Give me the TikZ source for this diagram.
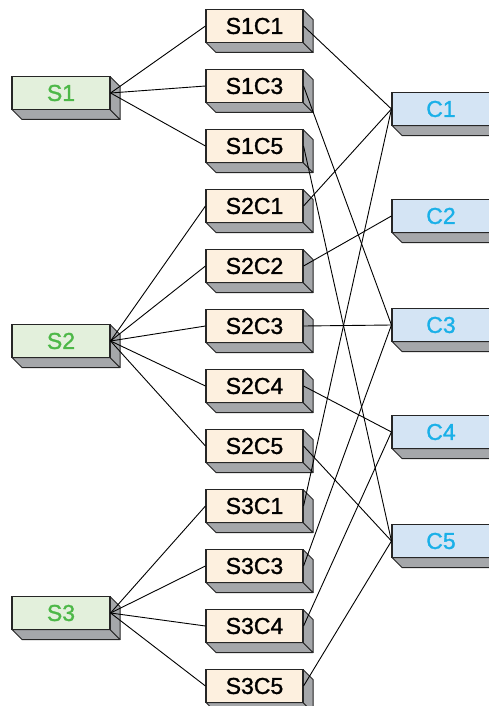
\documentclass[tikz,border=0pt]{standalone}
\usepackage{fontspec}
\setmainfont[FakeBold=1.3]{Liberation Sans}
\definecolor{sfill}{HTML}{E3F0DC}
\definecolor{mfill}{HTML}{FDF0DF}
\definecolor{cfill}{HTML}{D4E4F4}
\definecolor{sidegray}{HTML}{A5A7AA}
\definecolor{edgecol}{HTML}{262626}
\definecolor{stext}{HTML}{4DB848}
\definecolor{ctext}{HTML}{1AB0E8}
\newcommand\threedbox[7]{% name, x, y, fill, textcolor, text, width
  \filldraw[sidegray, draw=edgecol, line width=1pt, line join=round]
    ({#2-#7/2},{#3+16.5}) -- ++(#7,0) -- ++(10,10) -- ++(-#7,0) -- cycle;
  \filldraw[sidegray, draw=edgecol, line width=1pt, line join=round]
    ({#2+#7/2},{#3-16.5}) -- ++(10,10) -- ++(0,33) -- ++(-10,-10) -- cycle;
  \node[boxface, fill=#4, text=#5, minimum width=#7pt] (#1) at (#2,#3) {#6};
}
\begin{document}
\begin{tikzpicture}[x=1pt,y=-1pt,
  boxface/.style={draw=edgecol, line width=1.1pt, minimum height=33pt, inner sep=0pt, font=\fontsize{23}{23}\selectfont},
  link/.style={draw=black, line width=0.9pt}]
\useasboundingbox (0,0) rectangle (489,706);
\fill[white] (0,0) rectangle (489,706);
% S boxes
\threedbox{S1}{61}{93}{sfill}{stext}{S1}{98}
\threedbox{S2}{61}{341}{sfill}{stext}{S2}{98}
\threedbox{S3}{61}{613}{sfill}{stext}{S3}{98}
% middle boxes
\foreach \n [count=\k from 0] in {S1C1,S1C3,S1C5,S2C1,S2C2,S2C3,S2C4,S2C5,S3C1,S3C3,S3C4,S3C5}{
  \threedbox{\n}{254.5}{26+60*\k}{mfill}{black}{\n}{97}
}
% C boxes
\threedbox{C1}{441}{109}{cfill}{ctext}{C1}{98}
\threedbox{C2}{441}{216}{cfill}{ctext}{C2}{98}
\threedbox{C3}{441}{325}{cfill}{ctext}{C3}{98}
\threedbox{C4}{441}{432}{cfill}{ctext}{C4}{98}
\threedbox{C5}{441}{541}{cfill}{ctext}{C5}{98}
% links S -> middle
\foreach \a/\b in {S1/S1C1,S1/S1C3,S1/S1C5,S2/S2C1,S2/S2C2,S2/S2C3,S2/S2C4,S2/S2C5,S3/S3C1,S3/S3C3,S3/S3C4,S3/S3C5}{
  \draw[link] (\a.east) -- (\b.west);
}
% links middle -> C
\foreach \a/\b in {S1C1/C1,S1C3/C3,S1C5/C5,S2C1/C1,S2C2/C2,S2C3/C3,S2C4/C4,S2C5/C5,S3C1/C1,S3C3/C3,S3C4/C4,S3C5/C5}{
  \draw[link] (\a.east) -- (\b.west);
}
\end{tikzpicture}
\end{document}
